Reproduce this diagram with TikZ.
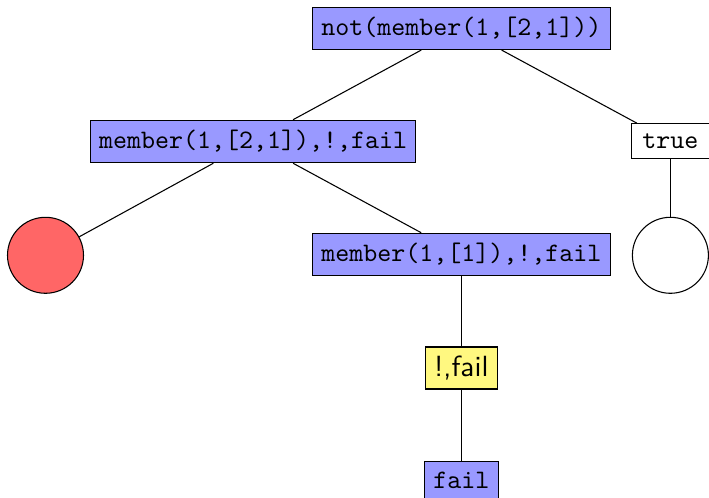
\documentclass[tikz,border=0pt]{standalone}
\begin{document}
\begin{tikzpicture}[x=0.375pt,y=-0.375pt,
  goal/.style={draw, fill=blue!40, font=\ttfamily, inner ysep=3.8pt},
  cutgoal/.style={draw, fill=yellow!50, font=\fontsize{10.95}{13}\selectfont\sffamily},
  done/.style={draw, fill=white, font=\ttfamily, inner ysep=3.8pt, inner xsep=4.2pt},
  failleaf/.style={circle, draw, fill=red!60, minimum size=28.5pt, inner sep=0pt},
  okleaf/.style={circle, draw, fill=white, minimum size=28.5pt, inner sep=0pt},
  branch/.style={draw, line width=0.4pt}]
\useasboundingbox (0,0) rectangle (709,498);

% goals of the derivation tree
\node[goal] (root) at (461.3,28.3) {not(member(1,[2,1]))};
\node[goal] (m21) at (253,141.5) {member(1,[2,1]),!,fail};
\node[done] (true) at (670.4,141.3) {true};
\node[failleaf] (red) at (45.5,255.3) {};
\node[goal] (m1) at (461.3,254.5) {member(1,[1]),!,fail};
\node[okleaf] (ok) at (670.4,255.3) {};
\node[cutgoal] (cut) at (461.3,368) {!,fail};
\node[goal] (fail) at (461.3,480) {fail};

% branches
\path[branch] (root) -- (m21);
\path[branch] (root) -- (true);
\path[branch] (m21) -- (red);
\path[branch] (m21) -- (m1);
\path[branch] (true) -- (ok);
\path[branch] (m1) -- (cut);
\path[branch] (cut) -- (fail);
\end{tikzpicture}
\end{document}
